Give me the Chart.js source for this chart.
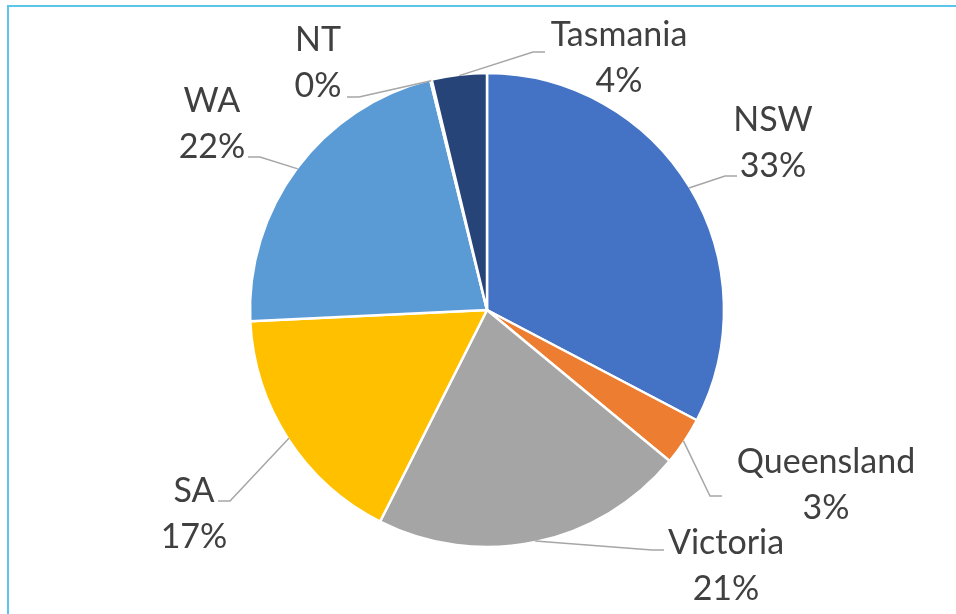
<!DOCTYPE html>
<html>
<head>
<meta charset="utf-8">
<script src="https://cdn.jsdelivr.net/npm/chart.js@4/dist/chart.umd.min.js"></script>
<style>
  html, body { margin: 0; padding: 0; background: #ffffff; }
  #wrap { width: 956px; height: 614px; position: relative; }
</style>
</head>
<body>
<div id="wrap"><canvas id="c" width="956" height="614"></canvas></div>
<script>
// ---- data ----
const categories = ['NSW', 'Queensland', 'Victoria', 'SA', 'WA', 'NT', 'Tasmania'];
const shares = [32.7, 3.3, 21.45, 16.8, 21.9, 0.1, 3.75];
const sliceColors = ['#4472C4', '#ED7D31', '#A5A5A5', '#FFC000', '#5B9BD5', '#70AD47', '#264478'];

// ---- label placement (offsets from pie centre, px), like Excel's label layout ----
const labelLayout = {
  'NSW':        { at: [286, -168], end: [-36, 34] },
  'Queensland': { at: [339, 174],  end: [-104, 12] },
  'Victoria':   { at: [239, 255],  end: [-62, -15] },
  'SA':         { at: [-293, 203], end: [24, -12] },
  'WA':         { at: [-275, -187], end: [36, 34] },
  'NT':         { at: [-169, -248], end: [29, 35] },
  'Tasmania':   { at: [132, -253], end: [-74, -5] }
};

const framePlugin = {
  id: 'frame',
  beforeDraw(chart) {
    const ctx = chart.ctx;
    ctx.save();
    ctx.fillStyle = '#ffffff';
    ctx.fillRect(0, 0, chart.width, chart.height);
    ctx.fillStyle = '#5BC5EC';
    ctx.fillRect(7, 5, chart.width - 7, 2);
    ctx.fillRect(7, 5, 2, chart.height - 5);
    ctx.restore();
  }
};

const outsideLabels = {
  id: 'outsideLabels',
  afterDatasetsDraw(chart) {
    const ctx = chart.ctx;
    const meta = chart.getDatasetMeta(0);
    const data = chart.data.datasets[0].data;
    const total = data.reduce((a, b) => a + b, 0);
    ctx.save();
    meta.data.forEach((arc, i) => {
      const p = arc.getProps(['x', 'y', 'startAngle', 'endAngle', 'outerRadius'], true);
      const name = chart.data.labels[i];
      const lay = labelLayout[name];
      const mid = (p.startAngle + p.endAngle) / 2;
      const r = p.outerRadius - 1;
      const sx = p.x + Math.cos(mid) * r;
      const sy = p.y + Math.sin(mid) * r;
      const bx = p.x + lay.at[0];
      const by = p.y + lay.at[1];
      const ex = bx + lay.end[0];
      const ey = by + lay.end[1];
      const kx = ex + Math.sign(lay.end[0]) * 12;
      // leader line
      ctx.strokeStyle = '#A6A6A6';
      ctx.lineWidth = 1.5;
      ctx.beginPath();
      ctx.moveTo(sx, sy);
      ctx.lineTo(kx, ey);
      ctx.lineTo(ex, ey);
      ctx.stroke();
      // text
      const pct = Math.round(data[i] / total * 100) + '%';
      ctx.fillStyle = '#404040';
      ctx.font = '34px Lato';
      ctx.textAlign = 'center';
      ctx.textBaseline = 'alphabetic';
      ctx.fillText(name, bx, by - 23 + 12);
      ctx.fillText(pct, bx, by + 23 + 12);
    });
    ctx.restore();
  }
};

new Chart(document.getElementById('c'), {
  type: 'pie',
  data: {
    labels: categories,
    datasets: [{
      data: shares,
      backgroundColor: sliceColors,
      borderColor: '#ffffff',
      borderWidth: 2.5,
      hoverOffset: 0
    }]
  },
  options: {
    responsive: false,
    animation: false,
    radius: 237,
    layout: { padding: { left: 18, top: 6, right: 0, bottom: 0 } },
    plugins: {
      legend: { display: false },
      tooltip: { enabled: false }
    },
    events: []
  },
  plugins: [framePlugin, outsideLabels]
});
</script>
</body>
</html>
